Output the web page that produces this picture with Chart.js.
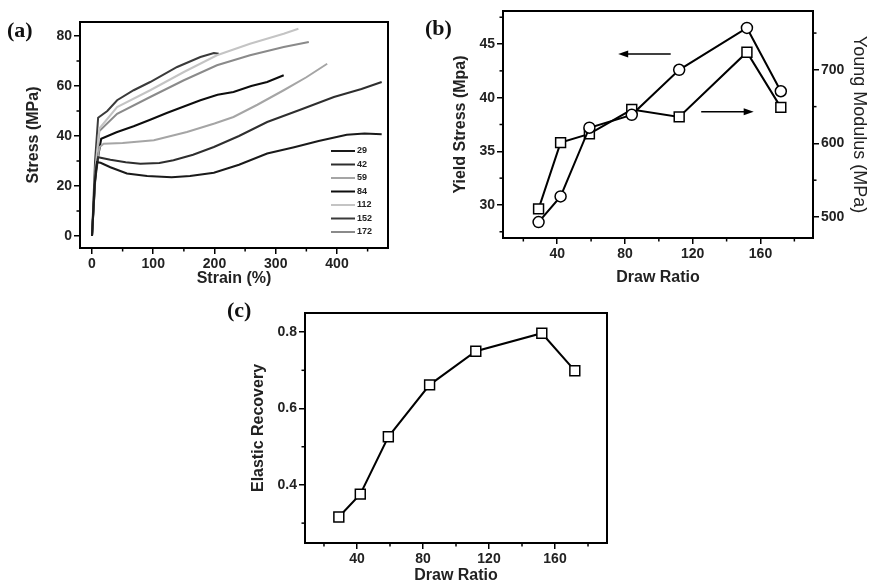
<!DOCTYPE html>
<html>
<head>
<meta charset="utf-8">
<script src="https://cdn.jsdelivr.net/npm/chart.js@4.4.1/dist/chart.umd.min.js"></script>
<style>
  body { margin: 0; background: #fff; width: 869px; height: 584px; position: relative; overflow: hidden; }
  canvas { position: absolute; }
</style>
</head>
<body>
<canvas id="chartA" width="400" height="290" style="left:0;top:0"></canvas>
<canvas id="chartB" width="469" height="290" style="left:400px;top:0"></canvas>
<canvas id="chartC" width="420" height="294" style="left:200px;top:290px"></canvas>
<script>
// (a) stress-strain curves, one per draw ratio
const curveLabels = ['29', '42', '59', '84', '112', '152', '172'];
const strain29 = [0, 4, 8, 14, 30, 57, 90, 130, 160, 199, 240, 286, 330, 370, 416, 445, 473];
const stress29 = [0, 20, 29.5, 29.3, 27.5, 25, 24, 23.5, 24, 25.3, 28.5, 33, 35.5, 38, 40.5, 41, 40.7];
const strain42 = [0, 5, 10, 30, 55, 79, 110, 133, 165, 199, 240, 286, 340, 395, 440, 473];
const stress42 = [0, 22, 31.5, 30.5, 29.5, 28.9, 29.2, 30.3, 32.5, 35.6, 40, 45.6, 50.5, 55.6, 58.8, 61.6];
const strain59 = [0, 6, 12, 19, 50, 101, 155, 200, 231, 270, 313, 350, 384];
const stress59 = [0, 25, 35.5, 36.9, 37.2, 38.3, 41.6, 45, 47.6, 52.5, 58.3, 63.5, 68.9];
const strain84 = [0, 6, 15, 40, 68, 95, 122, 150, 177, 205, 231, 260, 286, 313];
const stress84 = [0, 26, 38.9, 41.5, 43.9, 46.5, 49.2, 51.8, 54.3, 56.5, 57.6, 60, 61.6, 64.3];
const strain112 = [0, 6, 12, 41, 95, 150, 204, 258, 313, 337];
const stress112 = [0, 28, 43, 51.6, 58.3, 65.6, 72.3, 76.9, 80.9, 82.9];
const strain152 = [0, 5, 10, 25, 41, 68, 95, 139, 177, 199, 207];
const stress152 = [0, 30, 47.3, 50, 54.3, 58.3, 61.6, 67.6, 71.6, 73.2, 72.9];
const strain172 = [0, 6, 12, 41, 95, 150, 204, 258, 313, 354];
const stress172 = [0, 28, 42, 48.9, 55.6, 62.3, 68.3, 72.3, 75.6, 77.6];
const curveColors = ['#1a1a1a', '#2e2e2e', '#a5a5a5', '#0d0d0d', '#c4c4c4', '#3a3a3a', '#8a8a8a'];
const strainTicks = [0, 100, 200, 300, 400];
const stressTicks = [0, 20, 40, 60, 80];

// (b) and (c) vs draw ratio
const drawRatio = [29, 42, 59, 84, 112, 152, 172];
const yieldStress = [28.4, 30.8, 37.2, 38.4, 42.6, 46.5, 40.6];
const youngModulus = [511, 601, 613, 646, 636, 724, 649];
const elasticRecovery = [0.316, 0.376, 0.526, 0.662, 0.75, 0.797, 0.699];
const ratioTicks = [40, 80, 120, 160];
const yieldTicks = [30, 35, 40, 45];
const modulusTicks = [500, 600, 700];
const recoveryTicks = [0.4, 0.6, 0.8];

const FONT = '"Liberation Sans", Arial, sans-serif';
const tickFont = { family: FONT, size: 14, weight: 'bold' };
const titleFont = { family: FONT, size: 16, weight: 'bold' };

function pts(xs, ys) {
  return xs.map((x, i) => ({ x: x, y: ys[i] }));
}

// linear axis with fixed size so plot areas line up with the picture
function linAxis(o) {
  return {
    type: 'linear',
    position: o.position,
    min: o.min,
    max: o.max,
    afterBuildTicks: function (scale) {
      scale.ticks = o.ticks.map(v => ({ value: v }));
    },
    afterFit: function (scale) {
      if (o.w !== undefined) scale.width = o.w;
      if (o.h !== undefined) scale.height = o.h;
    },
    border: { display: true, color: '#000', width: 2 },
    grid: { display: true, drawOnChartArea: false, drawTicks: true, tickLength: 6, lineWidth: 1.5, color: '#000', tickColor: '#000' },
    ticks: {
      padding: 2, color: '#222', font: tickFont,
      maxRotation: 0, autoSkip: false, callback: o.fmt || (v => v)
    },
    title: { display: true, text: o.title, color: '#222', font: o.titleFont || titleFont, padding: o.titlePad }
  };
}

// frame, minor ticks, panel letters, legend, arrows
const deco = {
  id: 'deco',
  afterDraw(chart, args, o) {
    const ctx = chart.ctx, a = chart.chartArea;
    ctx.save();
    ctx.strokeStyle = '#000';
    ctx.lineWidth = 2;
    ctx.strokeRect(a.left, a.top, a.right - a.left, a.bottom - a.top);

    ctx.lineWidth = 1.5;
    (o.minor || []).forEach(([id, step]) => {
      const s = chart.scales[id];
      for (let k = Math.ceil(s.min / step - 1e-9); k * step <= s.max + 1e-9; k++) {
        if (k % 2 === 0) continue;
        const p = s.getPixelForValue(k * step);
        ctx.beginPath();
        if (s.position === 'left') { ctx.moveTo(a.left, p); ctx.lineTo(a.left - 3.5, p); }
        else if (s.position === 'right') { ctx.moveTo(a.right, p); ctx.lineTo(a.right + 3.5, p); }
        else { ctx.moveTo(p, a.bottom); ctx.lineTo(p, a.bottom + 3.5); }
        ctx.stroke();
      }
    });

    if (o.label) {
      ctx.fillStyle = '#111';
      ctx.font = 'bold 22px "Liberation Serif", "DejaVu Serif", serif';
      ctx.textBaseline = 'middle';
      ctx.textAlign = 'left';
      ctx.fillText(o.label.text, o.label.x, o.label.y);
    }

    if (o.legend) {
      const L = o.legend;
      ctx.font = 'bold 9px ' + FONT;
      ctx.textBaseline = 'middle';
      chart.data.datasets.forEach((ds, i) => {
        const y = L.y + i * L.dy;
        ctx.strokeStyle = ds.borderColor;
        ctx.lineWidth = 2;
        ctx.beginPath();
        ctx.moveTo(L.x, y);
        ctx.lineTo(L.x + L.len, y);
        ctx.stroke();
        ctx.fillStyle = '#222';
        ctx.fillText(ds.label, L.x + L.len + 2, y);
      });
    }

    (o.arrows || []).forEach(ar => {
      const sx = chart.scales.x, sy = chart.scales[ar.axis];
      const x1 = sx.getPixelForValue(ar.from), x2 = sx.getPixelForValue(ar.to);
      const y = sy.getPixelForValue(ar.y);
      const dir = Math.sign(x2 - x1);
      ctx.strokeStyle = '#000';
      ctx.fillStyle = '#000';
      ctx.lineWidth = 1.5;
      ctx.beginPath();
      ctx.moveTo(x1, y);
      ctx.lineTo(x2 - dir * 6, y);
      ctx.stroke();
      ctx.beginPath();
      ctx.moveTo(x2, y);
      ctx.lineTo(x2 - dir * 10, y - 3.5);
      ctx.lineTo(x2 - dir * 10, y + 3.5);
      ctx.closePath();
      ctx.fill();
    });
    ctx.restore();
  }
};

const strains = [strain29, strain42, strain59, strain84, strain112, strain152, strain172];
const stresses = [stress29, stress42, stress59, stress84, stress112, stress152, stress172];

new Chart(document.getElementById('chartA'), {
  type: 'line',
  data: {
    datasets: curveLabels.map((lab, i) => ({
      label: lab,
      data: pts(strains[i], stresses[i]),
      borderColor: curveColors[i],
      borderWidth: 2,
      pointRadius: 0,
      tension: 0,
      fill: false
    }))
  },
  options: {
    responsive: false,
    animation: false,
    layout: { padding: { top: 22, right: 12, left: 0, bottom: 0 } },
    plugins: {
      legend: { display: false },
      tooltip: { enabled: false },
      deco: {
        minor: [['x', 50], ['y', 10]],
        label: { text: '(a)', x: 7, y: 31 },
        legend: { x: 331, y: 151, dy: 13.5, len: 24 }
      }
    },
    scales: {
      x: linAxis({ position: 'bottom', min: -19.6, max: 483.3, ticks: strainTicks, h: 42, title: 'Strain (%)', titlePad: { top: 0, bottom: 2 } }),
      y: linAxis({ position: 'left', min: -4.8, max: 85.6, ticks: stressTicks, w: 80, title: 'Stress (MPa)', titlePad: { top: 24, bottom: 0 } })
    }
  },
  plugins: [deco]
});

new Chart(document.getElementById('chartB'), {
  type: 'line',
  data: {
    datasets: [
      {
        label: 'Yield Stress',
        data: pts(drawRatio, yieldStress),
        yAxisID: 'y',
        borderColor: '#000', borderWidth: 2,
        pointStyle: 'circle', pointRadius: 5.5,
        pointBackgroundColor: '#fff', pointBorderColor: '#000', pointBorderWidth: 1.5,
        tension: 0
      },
      {
        label: 'Young Modulus',
        data: pts(drawRatio, youngModulus),
        yAxisID: 'y1',
        borderColor: '#000', borderWidth: 2,
        pointStyle: 'rect', pointRadius: 7,
        pointBackgroundColor: '#fff', pointBorderColor: '#000', pointBorderWidth: 1.5,
        tension: 0
      }
    ]
  },
  options: {
    responsive: false,
    animation: false,
    layout: { padding: { top: 11, right: 0, left: 0, bottom: 0 } },
    plugins: {
      legend: { display: false },
      tooltip: { enabled: false },
      deco: {
        minor: [['x', 20], ['y', 2.5], ['y1', 50]],
        label: { text: '(b)', x: 25, y: 29 },
        arrows: [
          { axis: 'y', y: 44.07, from: 107, to: 76 },
          { axis: 'y1', y: 643, from: 125, to: 156 }
        ]
      }
    },
    scales: {
      x: linAxis({ position: 'bottom', min: 8, max: 191, ticks: ratioTicks, h: 52, title: 'Draw Ratio', titlePad: { top: 0, bottom: 3 } }),
      y: linAxis({ position: 'left', min: 26.92, max: 48.08, ticks: yieldTicks, w: 103, title: 'Yield Stress (Mpa)', titlePad: { top: 51, bottom: 0 } }),
      y1: linAxis({ position: 'right', min: 471.4, max: 780, ticks: modulusTicks, w: 56, title: 'Young Modulus (MPa)',
        titleFont: { family: FONT, size: 18, weight: 'normal', lineHeight: 1 }, titlePad: { top: 1, bottom: 0 } })
    }
  },
  plugins: [deco]
});

new Chart(document.getElementById('chartC'), {
  type: 'line',
  data: {
    datasets: [{
      label: 'Elastic Recovery',
      data: pts(drawRatio, elasticRecovery),
      borderColor: '#000', borderWidth: 2,
      pointStyle: 'rect', pointRadius: 7,
      pointBackgroundColor: '#fff', pointBorderColor: '#000', pointBorderWidth: 1.5,
      tension: 0
    }]
  },
  options: {
    responsive: false,
    animation: false,
    layout: { padding: { top: 23, right: 13, left: 0, bottom: 0 } },
    plugins: {
      legend: { display: false },
      tooltip: { enabled: false },
      deco: {
        minor: [['x', 20], ['y', 0.1]],
        label: { text: '(c)', x: 27, y: 21 }
      }
    },
    scales: {
      x: linAxis({ position: 'bottom', min: 8.5, max: 191.5, ticks: ratioTicks, h: 41, title: 'Draw Ratio',
        titleFont: { family: FONT, size: 16, weight: 'bold', lineHeight: 1 }, titlePad: { top: 0, bottom: 0 } }),
      y: linAxis({ position: 'left', min: 0.248, max: 0.85, ticks: recoveryTicks, w: 105, title: 'Elastic Recovery',
        titlePad: { top: 49, bottom: 0 }, fmt: v => v.toFixed(1) })
    }
  },
  plugins: [deco]
});
</script>
</body>
</html>
